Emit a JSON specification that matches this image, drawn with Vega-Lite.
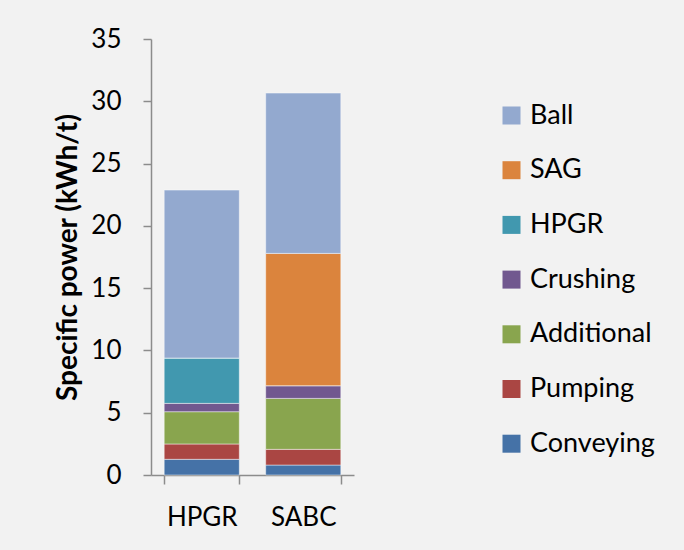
{
  "$schema": "https://vega.github.io/schema/vega-lite/v6.json",
  "autosize": {"type": "none"},
  "width": 203,
  "height": 436,
  "padding": {"left": 151, "top": 39, "right": 330, "bottom": 75},
  "background": "#f2f2f2",
  "config": {
    "view": {"stroke": null},
    "font": "Lato",
    "axis": {"grid": false, "domainColor": "#8c8c8c", "tickColor": "#8c8c8c", "domainWidth": 1.5, "tickWidth": 1.5, "labelColor": "#000000", "labelFont": "Lato", "labelFontSize": 26, "titleFont": "Lato"}
  },
  "data": {
    "values": [
      {"circuit": "HPGR", "component": "Conveying", "rank": 1, "power": 1.26},
      {"circuit": "HPGR", "component": "Pumping", "rank": 2, "power": 1.23},
      {"circuit": "HPGR", "component": "Additional", "rank": 3, "power": 2.59},
      {"circuit": "HPGR", "component": "Crushing", "rank": 4, "power": 0.67},
      {"circuit": "HPGR", "component": "HPGR", "rank": 5, "power": 3.64},
      {"circuit": "HPGR", "component": "SAG", "rank": 6, "power": 0},
      {"circuit": "HPGR", "component": "Ball", "rank": 7, "power": 13.48},
      {"circuit": "SABC", "component": "Conveying", "rank": 1, "power": 0.8},
      {"circuit": "SABC", "component": "Pumping", "rank": 2, "power": 1.26},
      {"circuit": "SABC", "component": "Additional", "rank": 3, "power": 4.09},
      {"circuit": "SABC", "component": "Crushing", "rank": 4, "power": 1.02},
      {"circuit": "SABC", "component": "HPGR", "rank": 5, "power": 0},
      {"circuit": "SABC", "component": "SAG", "rank": 6, "power": 10.62},
      {"circuit": "SABC", "component": "Ball", "rank": 7, "power": 12.87}
    ]
  },
  "mark": {"type": "bar", "stroke": "#ffffff", "strokeOpacity": 0.45, "strokeWidth": 1},
  "encoding": {
    "x": {
      "field": "circuit", "type": "nominal",
      "scale": {"paddingInner": 0.26, "paddingOuter": 0.13},
      "axis": {"title": null, "labelAngle": 0, "tickBand": "extent", "tickSize": 9, "labelPadding": 20, "labelFontSize": 26}
    },
    "y": {
      "field": "power", "type": "quantitative", "aggregate": "sum",
      "scale": {"domain": [0, 35], "nice": false},
      "axis": {"title": "Specific power (kWh/t)", "values": [0, 5, 10, 15, 20, 25, 30, 35], "tickSize": 8, "labelPadding": 22, "titleFontSize": 28, "titleFontWeight": "bold", "titleColor": "#000000", "titlePadding": 8}
    },
    "color": {
      "field": "component", "type": "nominal",
      "scale": {
        "domain": ["Ball", "SAG", "HPGR", "Crushing", "Additional", "Pumping", "Conveying"],
        "range": ["#93a9cf", "#db843d", "#4198af", "#71588f", "#89a54e", "#aa4643", "#4572a7"]
      },
      "legend": {"title": null, "orient": "none", "legendX": 347, "legendY": 63, "symbolType": "square", "symbolSize": 324, "symbolStrokeWidth": 0, "labelFontSize": 27, "labelColor": "#000000", "labelOffset": 5, "rowPadding": 26.7}
    },
    "order": {"field": "rank", "type": "quantitative"}
  }
}
